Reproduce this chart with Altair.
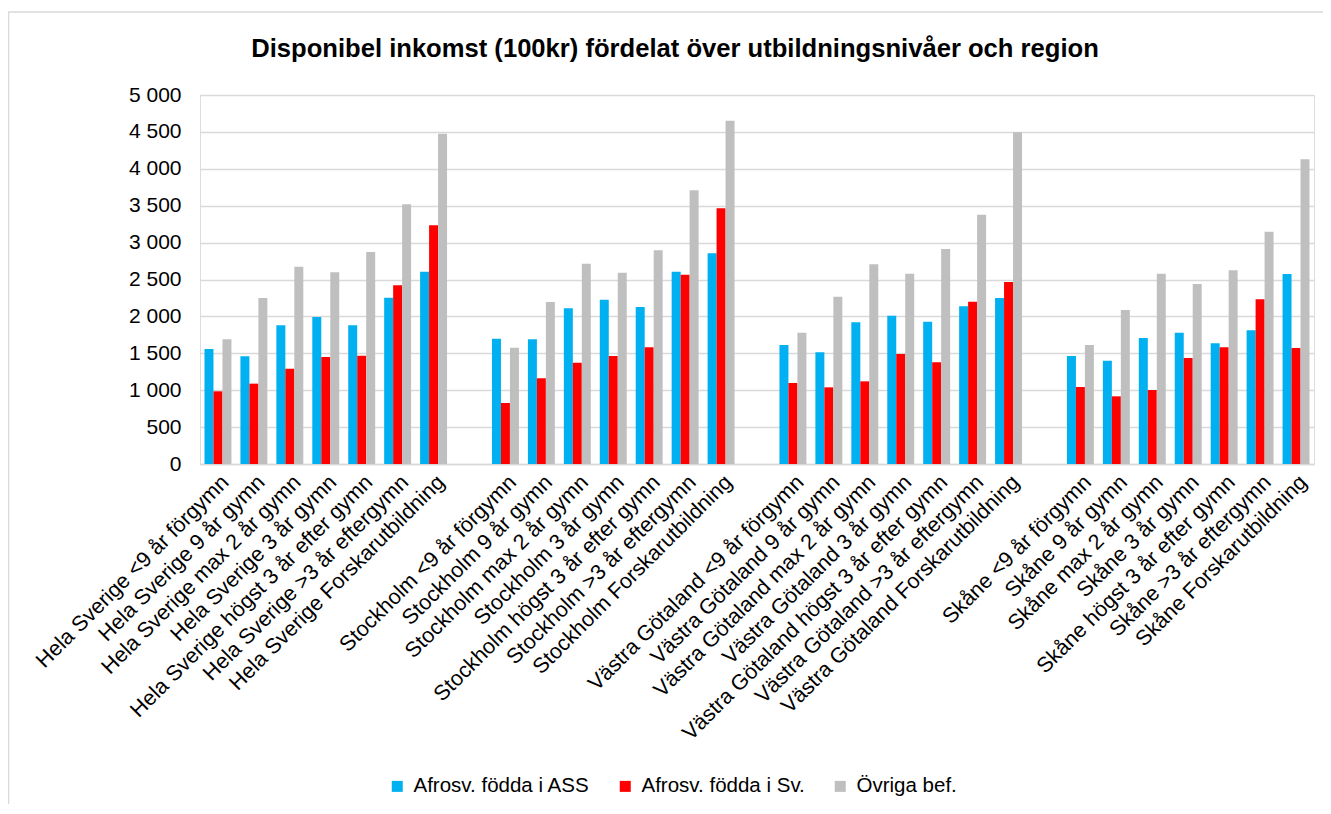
import altair as alt
import pandas as pd

title_text = "Disponibel inkomst (100kr) fördelat över utbildningsnivåer och region"
regions = ["Hela Sverige", "Stockholm", "Västra Götaland", "Skåne"]
levels = ["<9 år förgymn", "9 år gymn", "max 2 år gymn", "3 år gymn",
          "högst 3 år efter gymn", ">3 år eftergymn", "Forskarutbildning"]
series = ["Afrosv. födda i ASS", "Afrosv. födda i Sv.", "Övriga bef."]
colors = ["#00B0F0", "#FF0000", "#BFBFBF"]

# values per region, per level (order as levels)
ass = {
    "Hela Sverige":    [1558, 1459, 1879, 1992, 1879, 2254, 2606],
    "Stockholm":       [1698, 1689, 2109, 2227, 2127, 2606, 2855],
    "Västra Götaland": [1612, 1513, 1920, 2010, 1929, 2136, 2249],
    "Skåne":           [1463, 1400, 1707, 1780, 1635, 1811, 2574],
}
sv = {
    "Hela Sverige":    [985, 1089, 1292, 1450, 1468, 2421, 3234],
    "Stockholm":       [827, 1161, 1373, 1463, 1581, 2565, 3464],
    "Västra Götaland": [1098, 1039, 1120, 1491, 1378, 2200, 2466],
    "Skåne":           [1043, 917, 1003, 1436, 1581, 2231, 1572],
}
ovr = {
    "Hela Sverige":    [1689, 2249, 2674, 2597, 2873, 3519, 4476],
    "Stockholm":       [1576, 2195, 2715, 2593, 2895, 3708, 4652],
    "Västra Götaland": [1780, 2267, 2706, 2579, 2913, 3378, 4494],
    "Skåne":           [1612, 2087, 2579, 2439, 2624, 3148, 4128],
}

domain = []
rows = []
for i, r in enumerate(regions):
    if i > 0:
        domain.append(f"gap{i}")
    for j, lv in enumerate(levels):
        cat = f"{r} {lv}"
        domain.append(cat)
        for s, d in zip(series, [ass, sv, ovr]):
            rows.append({"cat": cat, "series": s, "value": d[r][j]})
df = pd.DataFrame(rows)

FONT = "Liberation Sans"
W, H = 1114, 369

bars = alt.Chart(df).mark_bar().encode(
    x=alt.X("cat:N", sort=domain,
            scale=alt.Scale(domain=domain, paddingInner=0.25, paddingOuter=0.125),
            axis=alt.Axis(title=None, labelAngle=-45, labelAlign="right",
                          labelBaseline="top", labelPadding=7, labelFontSize=21.5,
                          labelFont=FONT, labelColor="#000000", ticks=False,
                          domainColor="#d9d9d9", domainWidth=1.5, labelLimit=0,
                          labelOverlap=False,
                          labelExpr="indexof(datum.label, 'gap') === 0 ? '' : datum.label")),
    xOffset=alt.XOffset("series:N", sort=series, scale=alt.Scale(domain=series)),
    y=alt.Y("value:Q", scale=alt.Scale(domain=[0, 5000], nice=False),
            axis=alt.Axis(title=None, values=list(range(0, 5001, 500)),
                          labelFontSize=21, labelFont=FONT, labelColor="#000000",
                          labelPadding=19, ticks=False, domain=False,
                          gridColor="#d9d9d9", gridWidth=1.5,
                          labelExpr="replace(format(datum.value, ','), ',', ' ')")),
    color=alt.Color("series:N", sort=series,
                    scale=alt.Scale(domain=series, range=colors),
                    legend=alt.Legend(title=None, orient="none", direction="horizontal",
                                      legendX=187, legendY=681, symbolType="square",
                                      symbolSize=121, symbolStrokeWidth=0,
                                      labelFontSize=20.5, labelFont=FONT,
                                      labelColor="#000000", labelOffset=6,
                                      labelLimit=400, columnPadding=25)),
)

title = alt.Chart(pd.DataFrame({"t": [title_text]})).mark_text(
    font=FONT, fontSize=25.6, fontWeight="bold", color="#000000",
    align="center", baseline="alphabetic"
).encode(text="t:N", x=alt.value(475), y=alt.value(-38))

frame = alt.Chart(pd.DataFrame({"a": [0]})).mark_rect(
    fill=None, stroke="#d9d9d9", strokeWidth=1.5, clip=False
).encode(x=alt.value(-191.5), x2=alt.value(W + 100), y=alt.value(-83),
         y2=alt.value(H + 400))

chart = alt.layer(frame, bars, title).properties(
    width=W, height=H,
    autosize=alt.AutoSizeParams(type="none"),
    padding={"left": 192, "top": 87, "right": 9, "bottom": 340},
).configure_view(stroke=None).configure(background="white")

chart.save("out.html", embed_options={"renderer": "svg", "actions": False})
